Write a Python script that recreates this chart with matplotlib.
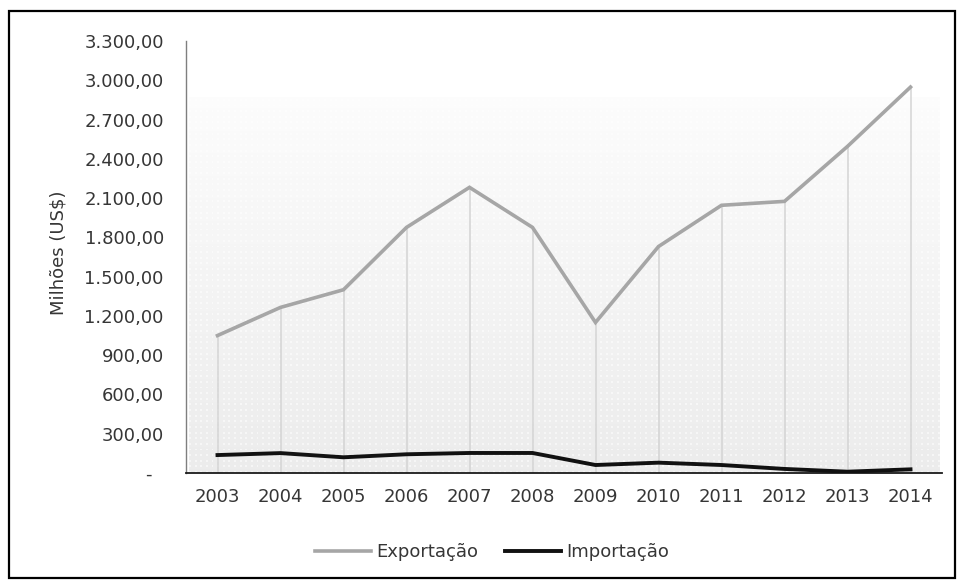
import numpy as np
import matplotlib
matplotlib.use("Agg")
import matplotlib.pyplot as plt
from matplotlib.patches import Rectangle
from matplotlib.ticker import FixedLocator, FuncFormatter

# Annual trade values, millions of US$
anos = ["2003", "2004", "2005", "2006", "2007", "2008",
        "2009", "2010", "2011", "2012", "2013", "2014"]
exportacao = [1050, 1265, 1400, 1876, 2182, 1876,
              1150, 1730, 2045, 2075, 2495, 2948]
importacao = [137, 152, 120, 143, 153, 153,
              61, 79, 61, 31, 10, 28]
y_ticks = [0, 300, 600, 900, 1200, 1500, 1800, 2100, 2400, 2700, 3000, 3300]

W, H, DPI = 963, 583, 100
fig = plt.figure(figsize=(W / DPI, H / DPI), dpi=DPI)
fig.patch.set_facecolor("white")

plt.rcParams["font.family"] = ["DejaVu Sans"]
txt_color = "#363636"
fs = 13

# plot area in pixel coordinates
x0, x1 = 186, 942
y_top, y_bot = 41, 473
ax = fig.add_axes([x0 / W, 1 - y_bot / H, (x1 - x0) / W, (y_bot - y_top) / H])
ax.set_facecolor("none")

x = np.arange(len(anos))
ax.set_xlim(-0.5, len(anos) - 0.5)
ax.set_ylim(0, 3300)

# soft gradient backdrop of the plot area
grad_top = 2870
ny = 200
g = np.linspace(0, 1, ny)[:, None]
shade = 0.925 + 0.065 * g  # darker at the bottom, lighter near the top
img = np.repeat(shade, 8, axis=1)
rgb = np.dstack([img, img, img])
ax.imshow(rgb, extent=(-0.45, 11.47, 0, grad_top), origin="lower",
          aspect="auto", zorder=0, interpolation="bilinear")
# fine dot texture over the gradient
yy, xx = np.mgrid[0:ny:1, 0:400:1]
dots = ((xx % 3 == 0) & (yy % 3 == 0)).astype(float)
tex = np.zeros((ny, 400, 4))
tex[..., :3] = 1.0
tex[..., 3] = dots * 0.55
ax.imshow(tex, extent=(-0.45, 11.47, 0, grad_top), origin="lower",
          aspect="auto", zorder=0.5, interpolation="nearest")

# drop lines from the export series down to the axis
ax.vlines(x, 0, exportacao, colors="#d4d4d4", linewidth=1.1, zorder=1)

ax.plot(x, exportacao, color="#a6a6a6", linewidth=2.6, zorder=3,
        solid_joinstyle="miter", label="Exportação")
ax.plot(x, importacao, color="#111111", linewidth=2.8, zorder=4,
        solid_joinstyle="miter", label="Importação")

# spines
for s in ("top", "right"):
    ax.spines[s].set_visible(False)
ax.spines["left"].set_color("#7f7f7f")
ax.spines["left"].set_linewidth(1.0)
ax.spines["bottom"].set_color("#1a1a1a")
ax.spines["bottom"].set_linewidth(1.3)


def fmt_pt(v, pos=None):
    if v == 0:
        return "-  "
    s = f"{v:,.2f}"
    return s.replace(",", "X").replace(".", ",").replace("X", ".")


ax.yaxis.set_major_locator(FixedLocator(y_ticks))
ax.yaxis.set_major_formatter(FuncFormatter(fmt_pt))
ax.set_xticks(x)
ax.set_xticklabels(anos)
ax.tick_params(axis="y", length=0, pad=16, labelsize=fs, labelcolor=txt_color)
ax.tick_params(axis="x", length=0, pad=11, labelsize=fs, labelcolor=txt_color)

fig.text(58 / W, 1 - 253 / H, "Milhões (US$)", rotation=90, ha="center",
         va="center", fontsize=fs, color=txt_color)

leg = ax.legend(loc="center", bbox_to_anchor=(492 / W, 1 - 552 / H),
                bbox_transform=fig.transFigure, ncol=2, frameon=False,
                fontsize=fs, handlelength=3.1, handletextpad=0.28,
                columnspacing=1.5, labelcolor=txt_color)

# outer chart border
fig.patches.append(Rectangle((9 / W, 1 - 578 / H), (955 - 9) / W, (578 - 11) / H,
                             transform=fig.transFigure, fill=False,
                             edgecolor="black", linewidth=1.6))

fig.savefig("out.png", dpi=DPI)
